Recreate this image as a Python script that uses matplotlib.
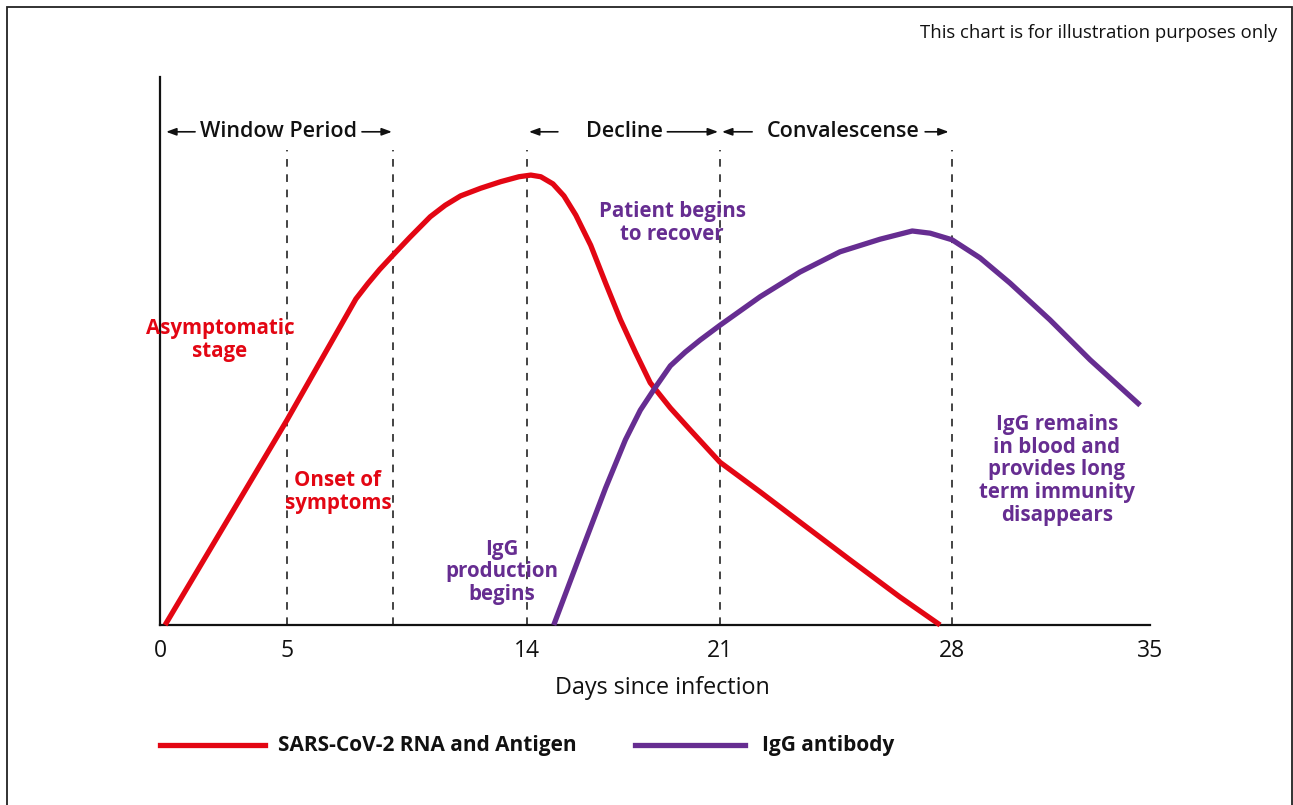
import numpy as np
import matplotlib
matplotlib.use("Agg")
import matplotlib.pyplot as plt
from matplotlib.patches import Rectangle
from matplotlib.lines import Line2D

plt.rcParams['font.family'] = ['Open Sans', 'DejaVu Sans']

# ---- data ----
tick_days = [0, 5, 14, 21, 28, 35]
tick_labels = ['0', '5', '14', '21', '28', '35']
marker_days = [5, 9, 14, 21, 28]

rna_days = [0.2, 5.0, 7.60, 8.05, 8.50, 9.0, 9.64, 10.39, 10.95, 11.52, 12.27, 13.02, 13.70,
            14.14, 14.50, 14.94, 15.34, 15.77, 16.31, 16.85, 17.39, 17.93, 18.47, 19.20,
            19.92, 21.0, 22.21, 23.41, 24.92, 26.43, 27.64]
rna_level = [0, 37.4, 59.5, 62.3, 64.9, 67.5, 70.8, 74.5, 76.6, 78.3, 79.7, 80.9, 81.8,
             82.1, 81.8, 80.5, 78.3, 74.8, 69.3, 62.4, 55.7, 49.8, 44.2, 39.6,
             35.6, 29.7, 24.3, 18.8, 11.9, 5.1, 0]

igg_days = [14.97, 15.95, 16.85, 17.57, 18.11, 18.66, 19.20, 19.74, 20.28, 21.0, 22.21,
            23.41, 24.62, 25.83, 26.80, 27.34, 28.0, 28.99, 30.05, 31.46, 32.88, 34.65]
igg_level = [0, 13.1, 25.0, 33.8, 39.2, 43.4, 47.3, 49.8, 52.0, 54.7, 59.9,
             64.4, 68.1, 70.4, 71.9, 71.5, 70.3, 67.0, 62.4, 55.7, 48.4, 40.1]

RED = '#E30613'
PURPLE = '#662D91'

# non-uniform day axis (as drawn in the reference)
scale_days = [0, 5, 9, 14, 21, 28, 35]
scale_pos = [0, 127, 233, 367, 560, 792, 990]

def fwd(d):
    return np.interp(d, scale_days, scale_pos)

def inv(p):
    return np.interp(p, scale_pos, scale_days)

W, H = 1293, 805
fig = plt.figure(figsize=(W / 100, H / 100), dpi=100)
ax = fig.add_axes([160 / W, 1 - 625 / H, 990 / W, 548 / H])
ax.set_xscale('function', functions=(fwd, inv))
ax.set_xlim(0, 35)
ax.set_ylim(0, 100)

# border around figure
fig.patches.append(Rectangle((7 / W, -0.01), (1292 - 7) / W, 1 - 7 / H + 0.01,
                             transform=fig.transFigure, fill=False, lw=1.3,
                             edgecolor='#222222'))

for s in ['top', 'right']:
    ax.spines[s].set_visible(False)
ax.spines['left'].set_linewidth(1.6)
ax.spines['bottom'].set_linewidth(1.6)
ax.spines['left'].set_color('#111111')
ax.spines['bottom'].set_color('#111111')
ax.set_yticks([])
ax.set_xticks(tick_days)
ax.set_xticklabels(tick_labels, fontsize=16.5)
ax.tick_params(axis='x', length=0, pad=10, colors='#111111')
ax.set_xlabel('Days since infection', fontsize=16.8, color='#111111')
ax.xaxis.set_label_coords((662 - 160) / 990, -(688 - 625) / 548, transform=ax.transAxes)
ax.xaxis.label.set_verticalalignment('center')

# dashed markers
ax.vlines(marker_days, 0, 86.7, colors='#111111', linestyles=(0, (5, 5)), lw=1.1)

# curves
ax.plot(rna_days, rna_level, color=RED, lw=3.8, solid_joinstyle='round',
        solid_capstyle='butt', clip_on=False, zorder=3)
ax.plot(igg_days, igg_level, color=PURPLE, lw=3.8, solid_joinstyle='round',
        solid_capstyle='butt', clip_on=False, zorder=3)

# period headers
yh = 90.0
hdr = dict(fontsize=15.5, fontweight='semibold', ha='center', va='center', color='#111111')
ax.text(4.65, yh, 'Window Period', **hdr)
ax.text(17.54, yh, 'Decline', **hdr)
ax.text(24.71, yh, 'Convalescense', **hdr)
arrows = [(1.38, 0.24), (7.83, 8.96), (15.12, 14.07), (19.09, 20.93),
          (21.97, 21.06), (27.19, 27.90)]
for tail, head in arrows:
    ax.annotate('', xy=(head, yh), xytext=(tail, yh),
                arrowprops=dict(arrowstyle='-|>,head_length=0.6,head_width=0.22',
                                lw=1.2, color='#111111', shrinkA=0, shrinkB=0))

# annotations
ann = dict(fontsize=14.8, fontweight='bold', ha='center', va='center', linespacing=1.1)
ax.text(2.36, 52.0, 'Asymptomatic\nstage', color=RED, **ann)
ax.text(6.92, 24.3, 'Onset of\nsymptoms', color=RED, **ann)
ax.text(13.06, 9.7, 'IgG\nproduction\nbegins', color=PURPLE, **ann)
ax.text(19.27, 73.4, 'Patient begins\nto recover', color=PURPLE, **ann)
ax.text(31.71, 28.3, 'IgG remains\nin blood and\nprovides long\nterm immunity\ndisappears',
        color=PURPLE, **ann)

# note
fig.text(1277 / W, 1 - 33 / H, 'This chart is for illustration purposes only',
         ha='right', va='center', fontsize=13.3, color='#111111')

# legend
fig.add_artist(Line2D([160 / W, 265 / W], [1 - 745 / H] * 2, color=RED, lw=3.8,
                      transform=fig.transFigure))
fig.text(278 / W, 1 - 745 / H, 'SARS-CoV-2 RNA and Antigen', ha='left', va='center',
         fontsize=15.0, fontweight='bold', color='#111111')
fig.add_artist(Line2D([635 / W, 745 / W], [1 - 745 / H] * 2, color=PURPLE, lw=3.8,
                      transform=fig.transFigure))
fig.text(762 / W, 1 - 745 / H, 'IgG antibody', ha='left', va='center',
         fontsize=15.0, fontweight='bold', color='#111111')

fig.savefig('out.png', dpi=100)
